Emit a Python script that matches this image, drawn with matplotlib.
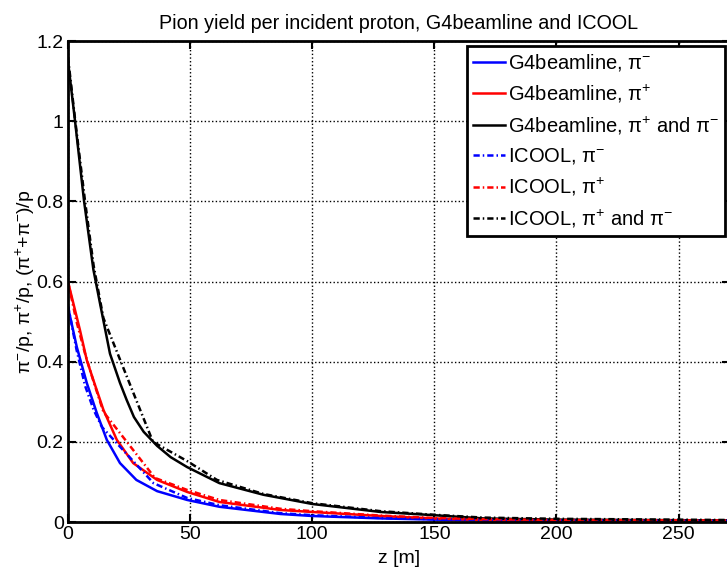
import numpy as np
import matplotlib
matplotlib.use("Agg")
import matplotlib.pyplot as plt

plt.rcParams['font.family'] = ['Liberation Sans', 'DejaVu Sans']
plt.rcParams['mathtext.fontset'] = 'custom'
plt.rcParams['mathtext.rm'] = 'Liberation Sans'
plt.rcParams['mathtext.it'] = 'Liberation Sans'
plt.rcParams['mathtext.default'] = 'regular'

# G4beamline curves
z_g4_minus = [0, 3.6, 7.7, 11.8, 15.9, 21.3, 28, 36.5, 48.8, 62, 87, 100, 128, 150, 170, 200, 270]
y_g4_minus = [0.537, 0.437, 0.347, 0.272, 0.205, 0.147, 0.105, 0.077, 0.055, 0.038, 0.02, 0.015, 0.009, 0.006, 0.004, 0.003, 0.002]

z_g4_plus = [0, 4.9, 7.7, 10.4, 14.5, 20, 26.7, 36.5, 48.8, 62, 87, 100, 128, 150, 170, 200, 270]
y_g4_plus = [0.60, 0.479, 0.404, 0.354, 0.28, 0.205, 0.147, 0.105, 0.075, 0.05, 0.03, 0.025, 0.015, 0.009, 0.005, 0.004, 0.003]

z_g4_both = [0, 2.9, 6.6, 10.4, 13.1, 17.2, 21.3, 24, 27, 31, 36.5, 42, 48.8, 62, 80, 100, 128, 150, 170, 200, 270]
y_g4_both = [1.15, 1.0, 0.80, 0.63, 0.546, 0.42, 0.347, 0.305, 0.262, 0.225, 0.19, 0.162, 0.137, 0.097, 0.068, 0.045, 0.025, 0.017, 0.009, 0.006, 0.004]

# ICOOL curves
z_ic_minus = [0, 3.5, 7, 10.5, 13.9, 35, 48.8, 62, 87, 100, 128, 150, 170, 200, 270]
y_ic_minus = [0.54, 0.43, 0.34, 0.28, 0.237, 0.097, 0.06, 0.042, 0.022, 0.017, 0.01, 0.007, 0.005, 0.004, 0.003]

z_ic_plus = [0, 3.5, 7, 10.5, 14.5, 35.6, 48.8, 62, 87, 100, 128, 150, 170, 200, 270]
y_ic_plus = [0.60, 0.50, 0.42, 0.35, 0.275, 0.11, 0.08, 0.055, 0.033, 0.027, 0.016, 0.01, 0.007, 0.005, 0.004]

z_ic_both = [0, 3, 7, 10.5, 14.5, 34.8, 48.8, 61, 80, 100, 128, 150, 170, 200, 270]
y_ic_both = [1.16, 1.0, 0.80, 0.64, 0.509, 0.20, 0.152, 0.105, 0.07, 0.047, 0.027, 0.018, 0.011, 0.008, 0.005]

dashdot = (0, (2.5, 1.2, 0.6, 1.2))

fig = plt.figure(figsize=(7.27, 5.71), dpi=100)
ax = fig.add_axes([0.0935, 0.0858, 0.9105, 0.8422])

ax.plot(z_g4_minus, y_g4_minus, color='#0000ff', lw=1.8, label=r'G4beamline, $\pi^{-}$')
ax.plot(z_g4_plus, y_g4_plus, color='#ff0000', lw=1.8, label=r'G4beamline, $\pi^{+}$')
ax.plot(z_g4_both, y_g4_both, color='k', lw=1.8, label=r'G4beamline, $\pi^{+}$ and $\pi^{-}$')
ax.plot(z_ic_minus, y_ic_minus, color='#0000ff', lw=1.8, ls=dashdot, label=r'ICOOL, $\pi^{-}$')
ax.plot(z_ic_plus, y_ic_plus, color='#ff0000', lw=1.8, ls=dashdot, label=r'ICOOL, $\pi^{+}$')
ax.plot(z_ic_both, y_ic_both, color='k', lw=1.8, ls=dashdot, label=r'ICOOL, $\pi^{+}$ and $\pi^{-}$')

ax.set_xlim(0, 271)
ax.set_ylim(0, 1.2)
ax.set_xticks([0, 50, 100, 150, 200, 250])
ax.set_yticks([0, 0.2, 0.4, 0.6, 0.8, 1.0, 1.2])
ax.set_yticklabels(['0', '0.2', '0.4', '0.6', '0.8', '1', '1.2'])
ax.tick_params(direction='in', top=True, right=True, labelsize=14, length=6, width=1.5, pad=3)
ax.grid(True, color='k', ls=':', lw=1.0)
for s in ax.spines.values():
    s.set_linewidth(2)

ax.set_title('Pion yield per incident proton, G4beamline and ICOOL', fontsize=14.2, pad=9)
ax.set_xlabel('z [m]', fontsize=14, labelpad=5)
ax.set_ylabel(r'$\pi^{-}$/p, $\pi^{+}$/p, ($\pi^{+}$+$\pi^{-}$)/p', fontsize=14, labelpad=0)

leg = ax.legend(loc='upper right', fontsize=14.5, fancybox=False, framealpha=1,
                edgecolor='k', handlelength=1.6, handletextpad=0.15,
                borderaxespad=0.25, labelspacing=0.48, borderpad=0.3)
leg.get_frame().set_linewidth(2)

fig.savefig('out.png', dpi=100)
